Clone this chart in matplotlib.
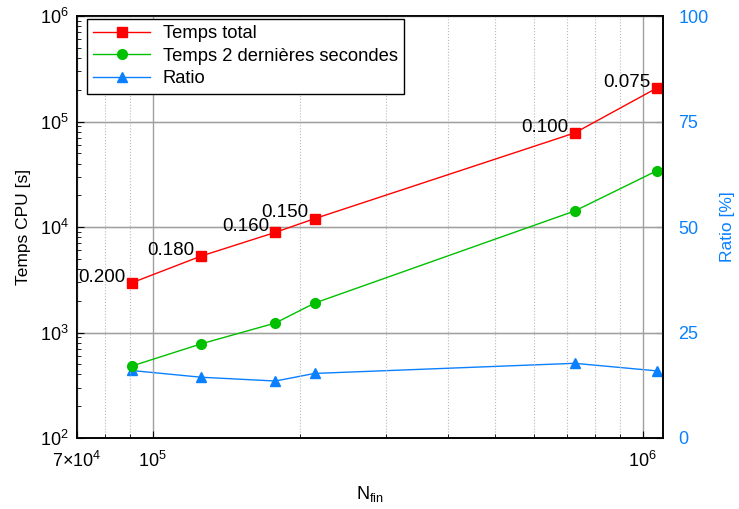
import matplotlib
matplotlib.use('Agg')
import matplotlib.pyplot as plt
import matplotlib.ticker as ticker

plt.rcParams['font.family'] = ['Liberation Sans', 'DejaVu Sans']
plt.rcParams['mathtext.fontset'] = 'custom'
plt.rcParams['mathtext.rm'] = 'Liberation Sans'
plt.rcParams['mathtext.it'] = 'Liberation Sans'

# data
n_fin = [9.05e4, 1.255e5, 1.78e5, 2.14e5, 7.27e5, 1.07e6]
temps_total = [2950, 5300, 8900, 1.2e4, 7.8e4, 2.08e5]
temps_2s = [480, 780, 1230, 1900, 1.42e4, 3.42e4]
ratio = [16.0, 14.4, 13.5, 15.3, 17.7, 15.9]
pas_labels = ['0.200', '0.180', '0.160', '0.150', '0.100', '0.075']

red = '#ff0000'
green = '#00c000'
blue = '#0a80ff'

fig = plt.figure(figsize=(7.39, 5.09), dpi=100)
ax = fig.add_axes([0.104, 0.1395, 0.793, 0.829])
ax2 = ax.twinx()

l1, = ax.plot(n_fin, temps_total, '-s', color=red, lw=1, ms=6.5, label='Temps total')
l2, = ax.plot(n_fin, temps_2s, '-o', color=green, lw=1, ms=7, label='Temps 2 dernières secondes')
l3, = ax2.plot(n_fin, ratio, '-^', color=blue, lw=1, ms=7, label='Ratio')

# mesh size labels next to the total time markers
for x, y, s in zip(n_fin, temps_total, pas_labels):
    ax.annotate(s, (x, y), xytext=(-4.5, 1), textcoords='offset points',
                ha='right', va='baseline', fontsize=13.5)

ax.set_xscale('log')
ax.set_yscale('log')
ax.set_xlim(7e4, 1.1e6)
ax.set_ylim(1e2, 1e6)
ax2.set_ylim(0, 100)

ax.xaxis.set_major_locator(ticker.FixedLocator([7e4, 1e5, 1e6]))
ax.xaxis.set_major_formatter(ticker.FixedFormatter([r'$7{\times}10^4$', r'$10^5$', r'$10^6$']))
ax.xaxis.set_minor_locator(ticker.LogLocator(base=10, subs=range(2, 10), numticks=20))
ax.xaxis.set_minor_formatter(ticker.NullFormatter())
ax.yaxis.set_major_locator(ticker.LogLocator(base=10, numticks=10))
ax.yaxis.set_minor_locator(ticker.LogLocator(base=10, subs=range(2, 10), numticks=20))
ax2.yaxis.set_major_locator(ticker.FixedLocator([0, 25, 50, 75, 100]))

ax.grid(True, which='major', axis='x', color='#a0a0a0', lw=1)
ax.grid(True, which='minor', axis='x', color='#b8b8b8', lw=0.8, ls=':')
ax.grid(True, which='major', axis='y', color='#a0a0a0', lw=1)
ax2.grid(True, which='major', axis='y', color='#c8c8c8', lw=1)

ax.tick_params(which='both', direction='in', top=False, labelsize=13, pad=6)
ax.tick_params(axis='x', which='major', pad=9)
ax.tick_params(which='major', length=5)
ax.tick_params(which='minor', length=3)
ax2.tick_params(direction='in', length=5, labelsize=13, labelcolor=blue, pad=11)

ax.set_zorder(ax2.get_zorder() + 1)
ax.patch.set_visible(False)

for sp in ax.spines.values():
    sp.set_linewidth(1.2)
for sp in ax2.spines.values():
    sp.set_linewidth(1.2)

ax.set_xlabel(r'N$_\mathregular{fin}$', fontsize=13, labelpad=10)
ax.set_ylabel('Temps CPU [s]', fontsize=12.5, labelpad=6)
ax2.set_ylabel('Ratio [%]', fontsize=12.5, color=blue, labelpad=8)

leg = ax.legend(handles=[l1, l2, l3], loc='upper left', bbox_to_anchor=(0.017, 0.993),
                fontsize=13.2, fancybox=False, edgecolor='black', framealpha=1,
                borderaxespad=0, borderpad=0.35, handlelength=3.1,
                handletextpad=0.7, labelspacing=0.3)
leg.get_frame().set_linewidth(1)

fig.savefig('out.png', dpi=100)
